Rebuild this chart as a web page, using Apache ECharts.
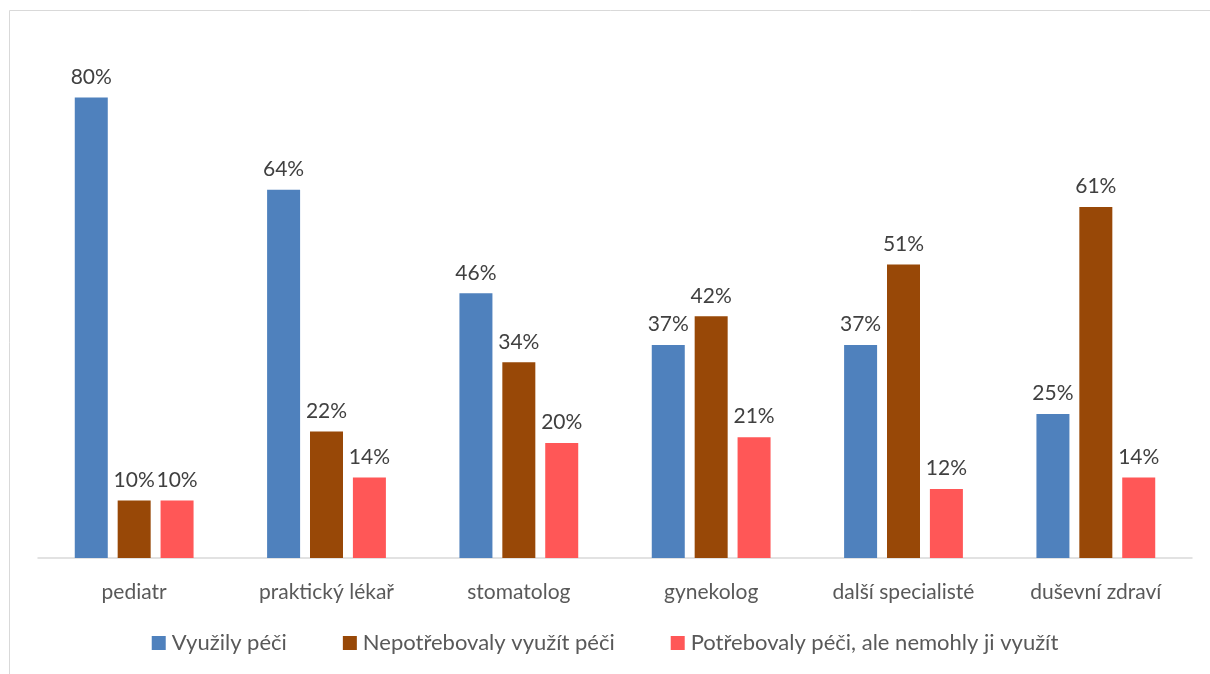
<!DOCTYPE html>
<html>
<head>
<meta charset="utf-8">
<script src="https://cdn.jsdelivr.net/npm/echarts@6/dist/echarts.min.js"></script>
<style>
  html, body { margin: 0; padding: 0; background: #fff; }
  #chart { width: 1210px; height: 674px; }
</style>
</head>
<body>
<div id="chart"></div>
<script>
var categories = ['pediatr', 'praktický lékař', 'stomatolog', 'gynekolog', 'další specialisté', 'duševní zdraví'];
var seriesNames = ['Využily péči', 'Nepotřebovaly využít péči', 'Potřebovaly péči, ale nemohly ji využít'];
var vyuzily = [80, 64, 46, 37, 37, 25];
var nepotrebovaly = [10, 22, 34, 42, 51, 61];
var nemohly = [10, 14, 20, 21, 12, 14];
var colors = ['#4F81BD', '#984807', '#FF5757'];

var chart = echarts.init(document.getElementById('chart'));

function barSeries(name, data, color) {
  return {
    name: name,
    type: 'bar',
    data: data,
    barWidth: 33,
    barGap: '30%',
    itemStyle: { color: color },
    label: {
      show: true,
      position: 'top',
      distance: 10,
      formatter: '{c}%',
      color: '#404040',
      fontSize: 21,
      fontFamily: 'Lato'
    }
  };
}

var option = {
  animation: false,
  textStyle: { fontFamily: 'Lato' },
  graphic: [{
    type: 'rect',
    shape: { x: 9.5, y: 10.5, width: 1220, height: 700 },
    style: { fill: 'none', stroke: '#d9d9d9', lineWidth: 1 },
    silent: true
  }],
  grid: { left: 38, right: 18, top: 40, bottom: 116 },
  legend: {
    data: seriesNames,
    bottom: 15,
    left: 'center',
    itemWidth: 14,
    itemHeight: 14,
    itemGap: 56,
    icon: 'rect',
    textStyle: { color: '#595959', fontSize: 22, fontFamily: 'Lato', padding: [0, 0, 0, 1] }
  },
  xAxis: {
    type: 'category',
    data: categories,
    axisLine: { lineStyle: { color: '#d9d9d9', width: 1.5 } },
    axisTick: { show: false },
    axisLabel: { color: '#595959', fontSize: 21, margin: 24, fontFamily: 'Lato' }
  },
  yAxis: {
    type: 'value',
    min: 0,
    max: 90,
    show: false,
    splitLine: { show: false }
  },
  series: [
    barSeries(seriesNames[0], vyuzily, colors[0]),
    barSeries(seriesNames[1], nepotrebovaly, colors[1]),
    barSeries(seriesNames[2], nemohly, colors[2])
  ]
};

chart.setOption(option);
</script>
</body>
</html>
